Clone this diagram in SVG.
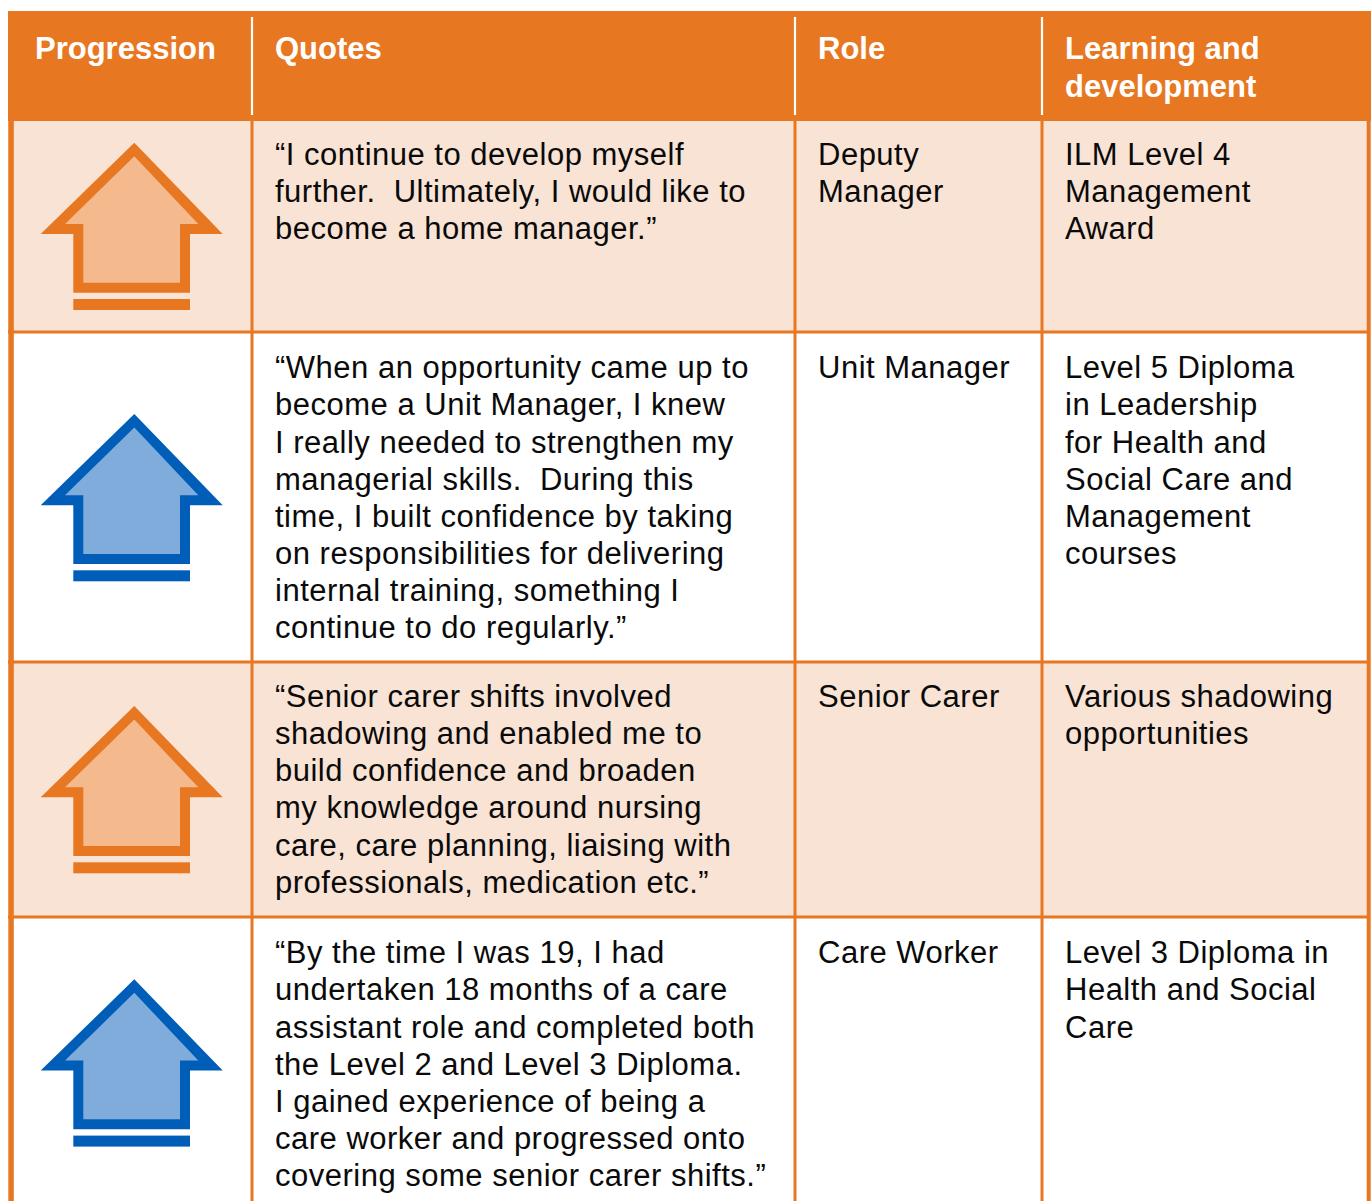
<svg xmlns="http://www.w3.org/2000/svg" xmlns:xlink="http://www.w3.org/1999/xlink" width="1372" height="1201" viewBox="0 0 1372 1201">
<style>
.hd{font-family:"Liberation Sans",Arial,sans-serif;font-weight:bold;font-size:31px;fill:#ffffff}
.tx{font-family:"Liberation Sans",Arial,sans-serif;font-size:31px;letter-spacing:0.5px;fill:#0a0a0a;white-space:pre}
.peach{fill:#F9E3D4}
.white{fill:#ffffff}
.gl{stroke:#E87722;stroke-width:3;fill:none}
.hdiv{stroke:#ffffff;stroke-width:2.2;fill:none}
</style>
<defs>
<g id="arrow-orange">
<polygon points="134.3,0 222.7,91.3 190,91.3 190,150 73.3,150 73.3,91.3 40.7,91.3" fill="#E87722"/>
<polygon points="134.3,13.5 198.3,81.3 180,81.3 180,140 83.3,140 83.3,81.3 65,81.3" fill="#F4B98D"/>
<rect x="73.3" y="156.3" width="116.7" height="11" fill="#E87722"/>
</g>
<g id="arrow-blue">
<polygon points="134.3,0 222.7,91.3 190,91.3 190,150 73.3,150 73.3,91.3 40.7,91.3" fill="#005EB8"/>
<polygon points="134.3,13.5 198.3,81.3 180,81.3 180,140 83.3,140 83.3,81.3 65,81.3" fill="#7FACDB"/>
<rect x="73.3" y="156.3" width="116.7" height="11" fill="#005EB8"/>
</g>
</defs>

<g id="header">
<rect x="8" y="11" width="1363" height="110" fill="#E87722"/>
<line class="hdiv" x1="252" y1="17" x2="252" y2="115"/>
<line class="hdiv" x1="795" y1="17" x2="795" y2="115"/>
<line class="hdiv" x1="1042" y1="17" x2="1042" y2="115"/>
<text class="hd" x="35" y="59">Progression</text>
<text class="hd" x="275" y="59">Quotes</text>
<text class="hd" x="818" y="59">Role</text>
<text class="hd" x="1065" y="59">Learning and</text>
<text class="hd" x="1065" y="96.5">development</text>
</g>

<g id="row1">
<rect class="peach" x="8" y="121" width="1362" height="211"/>
<use xlink:href="#arrow-orange" href="#arrow-orange" x="0" y="142.7"/>
<text class="tx" x="275" y="165">“I continue to develop myself</text>
<text class="tx" x="275" y="202.2">further.  Ultimately, I would like to</text>
<text class="tx" x="275" y="239.4">become a home manager.”</text>
<text class="tx" x="818" y="165">Deputy</text>
<text class="tx" x="818" y="202.2">Manager</text>
<text class="tx" x="1065" y="165">ILM Level 4</text>
<text class="tx" x="1065" y="202.2">Management</text>
<text class="tx" x="1065" y="239.4">Award</text>
</g>

<g id="row2">
<rect class="white" x="8" y="332" width="1362" height="330"/>
<use xlink:href="#arrow-blue" href="#arrow-blue" x="0" y="414"/>
<text class="tx" x="275" y="378.3">“When an opportunity came up to</text>
<text class="tx" x="275" y="415.4">become a Unit Manager, I knew</text>
<text class="tx" x="275" y="452.6">I really needed to strengthen my</text>
<text class="tx" x="275" y="489.7">managerial skills.  During this</text>
<text class="tx" x="275" y="526.9">time, I built confidence by taking</text>
<text class="tx" x="275" y="564">on responsibilities for delivering</text>
<text class="tx" x="275" y="601.2">internal training, something I</text>
<text class="tx" x="275" y="638.3">continue to do regularly.”</text>
<text class="tx" x="818" y="378.3">Unit Manager</text>
<text class="tx" x="1065" y="378.3">Level 5 Diploma</text>
<text class="tx" x="1065" y="415.4">in Leadership</text>
<text class="tx" x="1065" y="452.6">for Health and</text>
<text class="tx" x="1065" y="489.7">Social Care and</text>
<text class="tx" x="1065" y="526.9">Management</text>
<text class="tx" x="1065" y="564">courses</text>
</g>

<g id="row3">
<rect class="peach" x="8" y="662" width="1362" height="255"/>
<use xlink:href="#arrow-orange" href="#arrow-orange" x="0" y="706"/>
<text class="tx" x="275" y="707">“Senior carer shifts involved</text>
<text class="tx" x="275" y="744.1">shadowing and enabled me to</text>
<text class="tx" x="275" y="781.3">build confidence and broaden</text>
<text class="tx" x="275" y="818.4">my knowledge around nursing</text>
<text class="tx" x="275" y="855.6">care, care planning, liaising with</text>
<text class="tx" x="275" y="892.7">professionals, medication etc.”</text>
<text class="tx" x="818" y="707">Senior Carer</text>
<text class="tx" x="1065" y="707">Various shadowing</text>
<text class="tx" x="1065" y="744.1">opportunities</text>
</g>

<g id="row4">
<rect class="white" x="8" y="917" width="1362" height="284"/>
<use xlink:href="#arrow-blue" href="#arrow-blue" x="0" y="979.3"/>
<text class="tx" x="275" y="963.3">“By the time I was 19, I had</text>
<text class="tx" x="275" y="1000.4">undertaken 18 months of a care</text>
<text class="tx" x="275" y="1037.6">assistant role and completed both</text>
<text class="tx" x="275" y="1074.7">the Level 2 and Level 3 Diploma.</text>
<text class="tx" x="275" y="1111.9">I gained experience of being a</text>
<text class="tx" x="275" y="1149">care worker and progressed onto</text>
<text class="tx" x="275" y="1186.2">covering some senior carer shifts.”</text>
<text class="tx" x="818" y="963.3">Care Worker</text>
<text class="tx" x="1065" y="963.3">Level 3 Diploma in</text>
<text class="tx" x="1065" y="1000.4">Health and Social</text>
<text class="tx" x="1065" y="1037.6">Care</text>
</g>

<g id="grid">
<rect x="8.3" y="121" width="5.5" height="1080" fill="#E87722"/>
<rect x="1366.7" y="121" width="4" height="1080" fill="#E87722"/>
<line class="gl" x1="8" y1="332" x2="1370" y2="332"/>
<line class="gl" x1="8" y1="662" x2="1370" y2="662"/>
<line class="gl" x1="8" y1="917" x2="1370" y2="917"/>
<line class="gl" x1="252" y1="121" x2="252" y2="1201"/>
<line class="gl" x1="795" y1="121" x2="795" y2="1201"/>
<line class="gl" x1="1042" y1="121" x2="1042" y2="1201"/>
</g>
</svg>
